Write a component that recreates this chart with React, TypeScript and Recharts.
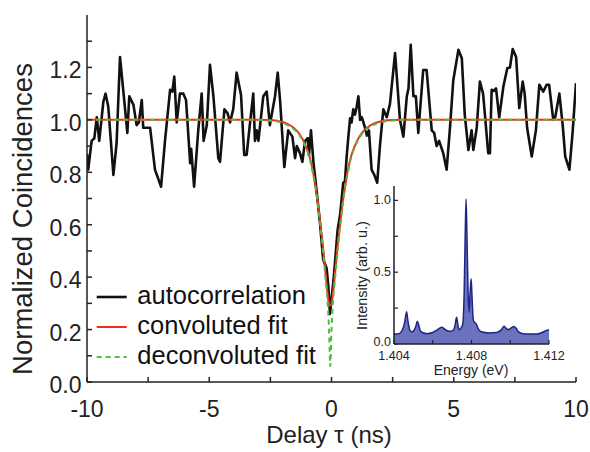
import React from 'react';
import { LineChart, Line, XAxis, YAxis, Legend, AreaChart, Area, Label } from 'recharts';

const FONT = '"Liberation Sans", Arial, Helvetica, sans-serif';
const AX = '#222';

// ---- main chart data ----
const delayNs = [
  -10.0, -9.95, -9.81, -9.7, -9.6, -9.5, -9.33, -9.24, -9.13, -8.92, -8.79, -8.65, -8.52, -8.35, -8.27, -8.1,
  -7.97, -7.88, -7.76, -7.7, -7.56, -7.42, -7.22, -6.97, -6.81, -6.6, -6.51, -6.43, -6.33, -6.2, -6.06, -5.95,
  -5.78, -5.74, -5.62, -5.45, -5.31, -5.23, -5.1, -4.97, -4.83, -4.63, -4.56, -4.38, -4.25, -4.15, -4.02, -3.88,
  -3.7, -3.57, -3.47, -3.33, -3.2, -3.13, -3.06, -2.99, -2.79, -2.65, -2.52, -2.31, -2.2, -2.1, -1.93, -1.77,
  -1.6, -1.49, -1.42, -1.29, -1.19, -1.08, -0.97, -0.92, -0.84, -0.74, -0.61, -0.47, -0.34, -0.2, -0.13, -0.06,
  0.01, 0.07, 0.14, 0.25, 0.35, 0.48, 0.55, 0.62, 0.69, 0.76, 0.82, 0.89, 0.96, 1.03, 1.1, 1.17, 1.24, 1.37,
  1.45, 1.53, 1.64, 1.75, 1.87, 1.98, 2.12, 2.26, 2.39, 2.6, 2.8, 2.94, 3.08, 3.15, 3.24, 3.35, 3.45, 3.55,
  3.75, 3.89, 4.1, 4.2, 4.3, 4.4, 4.57, 4.71, 4.85, 4.98, 5.19, 5.33, 5.45, 5.6, 5.73, 5.8, 5.94, 6.07, 6.2,
  6.41, 6.48, 6.55, 6.64, 6.73, 6.86, 7.03, 7.19, 7.3, 7.41, 7.55, 7.68, 7.82, 7.9, 8.0, 8.19, 8.36, 8.5,
  8.66, 8.8, 8.9, 9.07, 9.15, 9.32, 9.46, 9.56, 9.73, 9.86, 10.0,
];
const coincidences = [
  0.87, 0.81, 0.92, 0.93, 1.01, 0.92, 1.07, 1.1, 1.05, 0.79, 0.91, 1.24, 1.115, 0.95, 1.09, 1.057,
  0.98, 0.99, 1.076, 0.97, 0.97, 0.97, 0.81, 0.745, 0.92, 1.115, 1.108, 1.165, 0.99, 1.1, 1.1, 1.076,
  0.835, 0.89, 0.745, 0.96, 1.1, 0.92, 0.98, 1.21, 1.09, 0.854, 0.84, 1.04, 1.025, 0.99, 1.04, 1.18,
  1.095, 0.866, 0.866, 0.99, 1.1, 0.92, 0.96, 0.92, 1.09, 1.108, 0.98, 1.09, 1.18, 1.07, 0.82, 0.96,
  0.936, 0.854, 0.9, 0.873, 0.84, 0.92, 0.93, 0.866, 0.96, 0.84, 0.73, 0.605, 0.466, 0.434, 0.364, 0.26,
  0.326, 0.377, 0.453, 0.58, 0.637, 0.76, 0.765, 0.86, 0.936, 1.006, 0.99, 1.04, 1.02, 1.05, 1.09, 1.0, 1.01, 0.97,
  0.94, 0.96, 0.81, 0.79, 0.76, 0.9, 1.04, 1.01, 1.06, 1.255, 1.0, 0.936, 1.09, 1.12, 1.286, 1.09, 1.09, 0.95,
  1.19, 1.19, 0.96, 0.95, 0.9, 0.92, 0.873, 0.81, 0.975, 1.15, 1.267, 1.235, 1.02, 0.885, 0.96, 0.885, 0.97, 1.146, 1.1,
  0.873, 0.873, 1.115, 1.11, 1.12, 1.01, 1.127, 1.197, 1.2, 1.27, 1.24, 1.045, 1.146, 1.1, 0.97, 0.86, 0.96, 1.134,
  1.108, 1.134, 1.134, 1.0, 1.01, 1.1, 0.975, 0.86, 0.81, 0.95, 1.14,
];

const fitDelayNs = [
  -10, -3.05, -2.55, -2.05, -1.8, -1.55, -1.3, -1.05, -0.9, -0.75, -0.65, -0.55, -0.45, -0.35, -0.25, -0.15, -0.1,
  -0.05, 0, 0.05, 0.15, 0.25, 0.35, 0.45, 0.55, 0.65, 0.8, 0.95, 1.2, 1.45, 1.7, 1.95, 2.45, 2.95, 10,
];
const convolutedFit = [
  1.0, 1.0, 0.999, 0.993, 0.985, 0.97, 0.945, 0.9, 0.86, 0.8, 0.74, 0.68, 0.6, 0.52, 0.42, 0.33, 0.3,
  0.29, 0.3, 0.33, 0.42, 0.52, 0.6, 0.68, 0.74, 0.8, 0.86, 0.9, 0.945, 0.97, 0.985, 0.993, 0.999, 1.0, 1.0,
];
const deconvolutedFit = [
  1.0, 1.0, 0.997, 0.99, 0.98, 0.965, 0.94, 0.895, 0.855, 0.79, 0.74, 0.67, 0.59, 0.5, 0.4, 0.29, 0.2,
  0.06, 0.2, 0.29, 0.4, 0.5, 0.59, 0.67, 0.74, 0.79, 0.855, 0.895, 0.94, 0.965, 0.98, 0.99, 0.997, 1.0, 1.0,
];

const xTicks = [-10, -7.5, -5, -2.5, 0, 2.5, 5, 7.5, 10];
const yTicks = [0, 0.1, 0.2, 0.3, 0.4, 0.5, 0.6, 0.7, 0.8, 0.9, 1.0, 1.1, 1.2, 1.3];

// ---- inset data ----
const energyEv = [
  1.404, 1.4042, 1.4044, 1.40455, 1.40465, 1.40472, 1.40482, 1.4049, 1.405, 1.40512, 1.4052, 1.40528, 1.40536,
  1.4055, 1.40568, 1.406, 1.40625, 1.40646, 1.40665, 1.40685, 1.40705, 1.40715, 1.40723, 1.4073, 1.40737,
  1.40748, 1.40755, 1.40762, 1.40767, 1.40772, 1.40777, 1.40782, 1.40788, 1.40793, 1.40798, 1.40803, 1.40809,
  1.40816, 1.40824, 1.40835, 1.4085, 1.4089, 1.4093, 1.40955, 1.40968, 1.40978, 1.40989, 1.41003, 1.41018,
  1.4103, 1.4104, 1.41066, 1.411, 1.4114, 1.41165, 1.41187, 1.412,
];
const intensity = [
  0.07, 0.07, 0.09, 0.15, 0.224, 0.16, 0.095, 0.085, 0.09, 0.12, 0.158, 0.13, 0.09,
  0.078, 0.072, 0.08, 0.1, 0.116, 0.1, 0.088, 0.095, 0.13, 0.186, 0.13, 0.1,
  0.115, 0.14, 0.35, 0.72, 1.01, 0.72, 0.38, 0.22, 0.36, 0.455, 0.32, 0.17,
  0.15, 0.14, 0.105, 0.085, 0.077, 0.08, 0.1, 0.123, 0.11, 0.1, 0.11, 0.121,
  0.11, 0.088, 0.072, 0.07, 0.07, 0.08, 0.095, 0.1,
];
const insetXTicks = [1.404, 1.406, 1.408, 1.41, 1.412];
const insetYTicks = [0, 0.25, 0.5, 0.75, 1.0];

const autoData = delayNs.map((x, i) => ({ x, y: coincidences[i] }));
const fitData = fitDelayNs.map((x, i) => ({ x, conv: convolutedFit[i], deconv: deconvolutedFit[i] }));
const specData = energyEv.map((e, i) => ({ e, v: intensity[i] }));

const COLORS = { auto: '#111111', conv: '#f52b1c', deconv: '#4fba44' };

// ---- tick renderers ----
const BottomTick = (p: any) => {
  const v = p.payload.value;
  const major = Math.abs(v % 5) < 1e-9;
  return (
    <g>
      <line x1={p.x} x2={p.x} y1={p.y} y2={p.y - 5} stroke={AX} strokeWidth={1.5} />
      {major && (
        <text x={p.x} y={p.y + 35} textAnchor="middle" fontSize={23} fontFamily={FONT} fill="#222">
          {String(v)}
        </text>
      )}
    </g>
  );
};
const TopTick = (p: any) => (
  <line x1={p.x} x2={p.x} y1={p.y} y2={p.y + 5} stroke={AX} strokeWidth={1.5} />
);
const LeftTick = (p: any) => {
  const v = p.payload.value;
  const major = Math.round(v * 10) % 2 === 0;
  return (
    <g>
      <line x1={p.x} x2={p.x + 5} y1={p.y} y2={p.y} stroke={AX} strokeWidth={1.5} />
      {major && (
        <text x={p.x - 5.5} y={p.y + 11} textAnchor="end" fontSize={23} fontFamily={FONT} fill="#222">
          {v.toFixed(1)}
        </text>
      )}
    </g>
  );
};
const RightTick = (p: any) => (
  <line x1={p.x} x2={p.x - 5} y1={p.y} y2={p.y} stroke={AX} strokeWidth={1.5} />
);

const InsetBottomTick = (p: any) => {
  const v = p.payload.value;
  const lab = Math.round(v * 1000) % 4 === 0;
  return (
    <g>
      <line x1={p.x} x2={p.x} y1={p.y} y2={p.y - 4} stroke={AX} strokeWidth={1.2} />
      {lab && (
        <text x={p.x} y={p.y + 15.5} textAnchor="middle" fontSize={12.5} fontFamily={FONT} fill="#222">
          {v.toFixed(3)}
        </text>
      )}
    </g>
  );
};
const InsetTopTick = (p: any) => (
  <line x1={p.x} x2={p.x} y1={p.y} y2={p.y + 4} stroke={AX} strokeWidth={1.2} />
);
const InsetLeftTick = (p: any) => {
  const v = p.payload.value;
  const lab = Math.round(v * 100) % 50 === 0;
  const dy = v === 0 ? 2 : 4;
  return (
    <g>
      <line x1={p.x} x2={p.x + 4} y1={p.y} y2={p.y} stroke={AX} strokeWidth={1.2} />
      {lab && (
        <text x={p.x - 3} y={p.y + dy} textAnchor="end" fontSize={12.5} fontFamily={FONT} fill="#222">
          {v.toFixed(1)}
        </text>
      )}
    </g>
  );
};
const InsetRightTick = (p: any) => (
  <line x1={p.x} x2={p.x - 4} y1={p.y} y2={p.y} stroke={AX} strokeWidth={1.2} />
);

const renderLegend = (props: any) => {
  const payload = props.payload || [];
  return (
    <svg width={290} height={110} style={{ display: 'block', overflow: 'visible' }}>
      {payload.map((item: any, i: number) => {
        const cy = 20 + 30 * i;
        const dash = item.dataKey === 'deconv' ? '5 4' : undefined;
        const sw = item.dataKey === 'y' ? 2.6 : 2;
        return (
          <g key={i}>
            <line x1={6.7} x2={36.7} y1={cy} y2={cy} stroke={item.color} strokeWidth={sw} strokeDasharray={dash} />
            <text x={47.3} y={cy + 6.8} fontSize={25.5} fontFamily={FONT} fill="#111">
              {item.value}
            </text>
          </g>
        );
      })}
    </svg>
  );
};

export default function App() {
  return (
    <div style={{ position: 'absolute', left: 0, top: 0, width: 590, height: 452, background: '#fff', fontFamily: FONT }}>
      <LineChart width={590} height={452} data={autoData} margin={{ top: 15, right: 14, bottom: 0, left: 0 }}>
        <XAxis
          xAxisId="b"
          type="number"
          dataKey="x"
          domain={[-10, 10]}
          ticks={xTicks}
          interval={0}
          height={70}
          tickSize={0}
          tickMargin={0}
          tickLine={false}
          tick={BottomTick}
          axisLine={{ stroke: AX, strokeWidth: 1.5 }}
          allowDataOverflow
        >
          <Label
            content={() => (
              <text x={329} y={443} textAnchor="middle" fontSize={24} fontFamily={FONT} fill="#222">
                Delay τ (ns)
              </text>
            )}
          />
        </XAxis>
        <XAxis
          xAxisId="t"
          orientation="top"
          type="number"
          dataKey="x"
          domain={[-10, 10]}
          ticks={xTicks}
          interval={0}
          height={0}
          tickSize={0}
          tickMargin={0}
          tickLine={false}
          tick={TopTick}
          axisLine={{ stroke: AX, strokeWidth: 1.5 }}
          allowDataOverflow
        />
        <YAxis
          yAxisId="l"
          type="number"
          domain={[0, 1.4]}
          ticks={yTicks}
          interval={0}
          width={87}
          tickSize={0}
          tickMargin={0}
          tickLine={false}
          tick={LeftTick}
          axisLine={{ stroke: AX, strokeWidth: 1.5 }}
          allowDataOverflow
        >
          <Label
            content={() => (
              <text
                x={32}
                y={219}
                transform="rotate(-90, 32, 219)"
                textAnchor="middle"
                fontSize={27.5}
                fontFamily={FONT}
                fill="#222"
              >
                Normalized Coincidences
              </text>
            )}
          />
        </YAxis>
        <YAxis
          yAxisId="r"
          orientation="right"
          type="number"
          domain={[0, 1.4]}
          ticks={yTicks}
          interval={0}
          width={0}
          tickSize={0}
          tickMargin={0}
          tickLine={false}
          tick={RightTick}
          axisLine={{ stroke: AX, strokeWidth: 1.5 }}
          allowDataOverflow
        />
        <Line
          xAxisId="b"
          yAxisId="l"
          data={autoData}
          dataKey="y"
          name="autocorrelation"
          type="linear"
          stroke={COLORS.auto}
          strokeWidth={2.6}
          strokeLinejoin="round"
          dot={false}
          activeDot={false}
          isAnimationActive={false}
        />
        <Line
          xAxisId="b"
          yAxisId="l"
          data={fitData}
          dataKey="conv"
          name="convoluted fit"
          type="monotone"
          stroke={COLORS.conv}
          strokeWidth={2}
          dot={false}
          activeDot={false}
          isAnimationActive={false}
        />
        <Line
          xAxisId="b"
          yAxisId="l"
          data={fitData}
          dataKey="deconv"
          name="deconvoluted fit"
          type="monotone"
          stroke={COLORS.deconv}
          strokeWidth={2}
          strokeDasharray="5 4"
          dot={false}
          activeDot={false}
          isAnimationActive={false}
        />
        <Legend
          layout="vertical"
          align="center"
          verticalAlign="middle"
          content={renderLegend}
          wrapperStyle={{ left: 90, top: 277, width: 290, height: 110 }}
        />
      </LineChart>

      <div style={{ position: 'absolute', left: 340, top: 176, width: 225, height: 210 }}>
        <AreaChart width={225} height={210} data={specData} margin={{ top: 10, right: 16, bottom: 0, left: 0 }}>
          <XAxis
            xAxisId="b"
            type="number"
            dataKey="e"
            domain={[1.404, 1.412]}
            ticks={insetXTicks}
            interval={0}
            height={42}
            tickSize={0}
            tickMargin={0}
            tickLine={false}
            tick={InsetBottomTick}
            axisLine={{ stroke: AX, strokeWidth: 1.5 }}
            allowDataOverflow
          >
            <Label
              content={() => (
                <text x={131} y={198.5} textAnchor="middle" fontSize={14} fontFamily={FONT} fill="#222">
                  Energy (eV)
                </text>
              )}
            />
          </XAxis>
          <XAxis
            xAxisId="t"
            orientation="top"
            type="number"
            dataKey="e"
            domain={[1.404, 1.412]}
            ticks={insetXTicks}
            interval={0}
            height={0}
            tickSize={0}
            tickMargin={0}
            tickLine={false}
            tick={InsetTopTick}
            axisLine={{ stroke: AX, strokeWidth: 1.5 }}
            allowDataOverflow
          />
          <YAxis
            yAxisId="l"
            type="number"
            domain={[0, 1.1]}
            ticks={insetYTicks}
            interval={0}
            width={54}
            tickSize={0}
            tickMargin={0}
            tickLine={false}
            tick={InsetLeftTick}
            axisLine={{ stroke: AX, strokeWidth: 1.5 }}
            allowDataOverflow
          >
            <Label
              content={() => (
                <text
                  x={27}
                  y={99.5}
                  transform="rotate(-90, 27, 99.5)"
                  textAnchor="middle"
                  fontSize={14.5}
                  fontFamily={FONT}
                  fill="#222"
                >
                  Intensity (arb. u.)
                </text>
              )}
            />
          </YAxis>
          <YAxis
            yAxisId="r"
            orientation="right"
            type="number"
            domain={[0, 1.1]}
            ticks={insetYTicks}
            interval={0}
            width={0}
            tickSize={0}
            tickMargin={0}
            tickLine={false}
            tick={InsetRightTick}
            axisLine={{ stroke: AX, strokeWidth: 1.5 }}
            allowDataOverflow
          />
          <Area
            xAxisId="b"
            yAxisId="l"
            dataKey="v"
            type="monotone"
            stroke="#1e2585"
            strokeWidth={1.5}
            fill="#6b73bf"
            fillOpacity={1}
            dot={false}
            activeDot={false}
            isAnimationActive={false}
          />
        </AreaChart>
      </div>
    </div>
  );
}
